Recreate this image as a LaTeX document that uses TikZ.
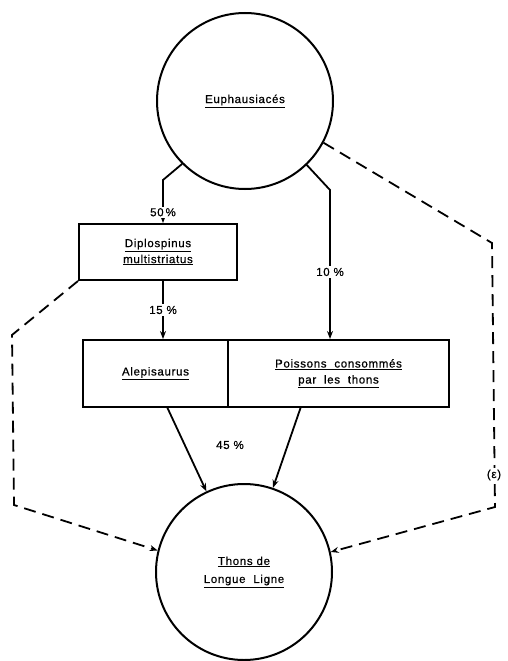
\documentclass[tikz,border=0pt]{standalone}
\usepackage{fontspec}
\setmainfont{Liberation Sans}
\newfontfamily\labfont[FakeBold=0.6,LetterSpace=6]{Liberation Sans}
\usetikzlibrary{arrows.meta}
\begin{document}
\begin{tikzpicture}[x=1pt,y=-1pt,
  every node/.style={font=\labfont\fontsize{11.5}{13}\selectfont},
  flow/.style={line width=1.8pt, line cap=round},
  tip/.style={-{Stealth[length=8pt,width=6pt]}},
  dashflow/.style={flow, line cap=butt, dash pattern=on 12pt off 7pt},
  pool/.style={draw, line width=2pt, circle, minimum size=176pt, inner sep=0pt, align=center},
  stock/.style={draw, line width=2pt, rectangle, inner sep=0pt, align=center},
  pct/.style={fill=white, inner sep=1.5pt}]
\useasboundingbox (0,0) rectangle (507,661);

% compartments
\node[pool] (euph) at (245,101) {\underline{Euphausiacés}};
\node[stock, minimum width=158pt, minimum height=56pt] (diplo) at (158,252)
  {\underline{Diplospinus}\\[3pt]\underline{multistriatus}};
\node[stock, minimum width=145pt, minimum height=67pt] (alepi) at (155.5,373.5)
  {\underline{Alepisaurus}};
\node[stock, minimum width=221pt, minimum height=67pt] (poiss) at (338.5,373.5)
  {\underline{Poissons\ \ consommés}\\[3pt]\underline{par\ \ les\ \ thons}};
\node[pool] (thons) at (244,572) {\underline{Thons\ de}\\[5pt]\underline{Longue\ \ Ligne}};

% bend points
\coordinate (l1) at (163,180);
\coordinate (r1) at (330,190);
\coordinate (dl1) at (12,335);
\coordinate (dl2) at (14,505);
\coordinate (dr1) at (492,243);
\coordinate (dr2) at (495,507);

% solid transfers
\draw[flow,tip] (euph.225) -- (l1) -- (l1 |- diplo.north)
  node[pct, pos=0.75] {50\,\%};
\draw[flow,tip] (diplo.south -| l1) -- (alepi.north -| l1)
  node[pct, midway] {15 \%};
\draw[flow,tip] (euph.314) -- (r1) -- (r1 |- poiss.north)
  node[pct, pos=0.55] {10 \%};
\draw[flow,tip] ([xshift=12pt]alepi.south) -- (thons.115);
\draw[flow,tip] ([xshift=-38pt]poiss.south) -- (thons.71);
\node (p45) at (230,445) {45 \%};

% dashed transfers
\draw[dashflow,tip] (diplo.south west) -- (dl1) -- (dl2) -- (thons.166);
\draw[dashflow,tip] (euph.332) -- (dr1) -- (dr2) -- (thons.13);
\node[pct] (eps) at (494,475) {(ε)};
\end{tikzpicture}
\end{document}
